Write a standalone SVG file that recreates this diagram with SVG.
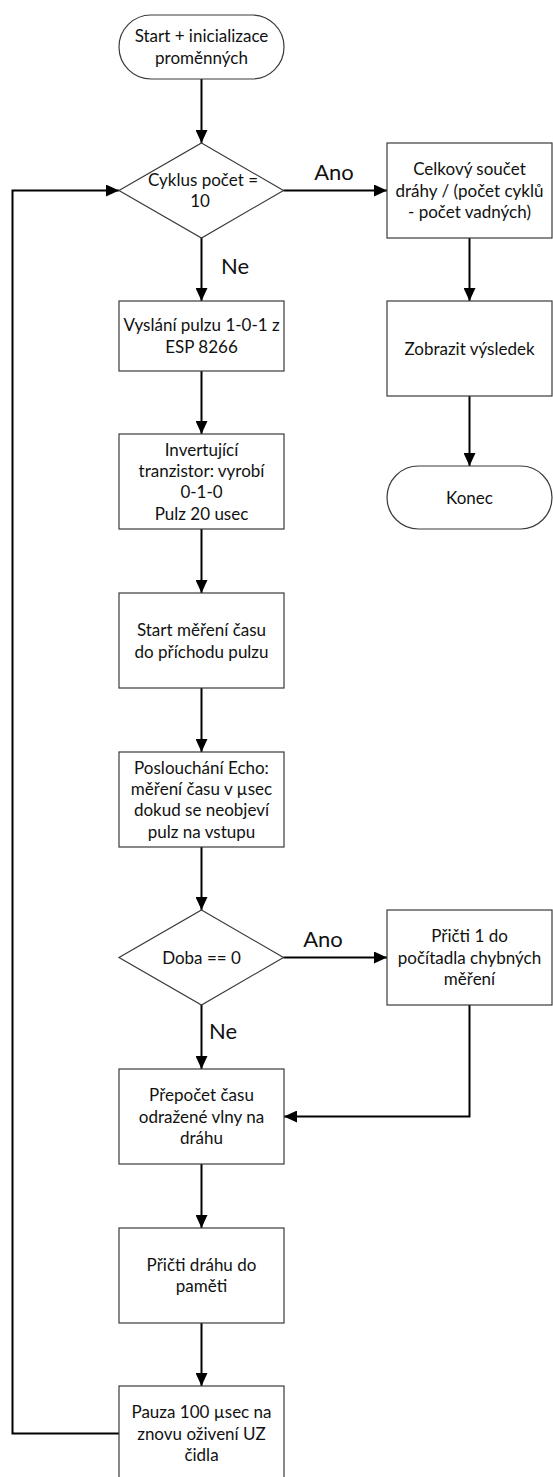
<svg xmlns="http://www.w3.org/2000/svg" width="553" height="1477" viewBox="0 0 553 1477">
<style>
.n{fill:#fff;stroke:#3a3a3a;stroke-width:1.2}
.t{font-family:Lato,"Liberation Sans",sans-serif;font-size:17px;fill:#111;text-anchor:middle}
.l{font-family:Lato,"Liberation Sans",sans-serif;font-size:22px;fill:#111;text-anchor:middle}
.c{fill:none;stroke:#000;stroke-width:2}
</style>
<defs>
<marker id="arr" viewBox="0 0 13 12" refX="13" refY="6" markerWidth="13" markerHeight="12" markerUnits="userSpaceOnUse" orient="auto">
<path d="M0,0 L13,6 L0,12 z" fill="#000"/>
</marker>
</defs>
<rect width="553" height="1477" fill="#fff"/>
<g id="connectors">
<path class="c" d="M201.5,79 V143" marker-end="url(#arr)"/>
<path class="c" d="M283.5,190.5 H387" marker-end="url(#arr)"/>
<path class="c" d="M201.5,238 V301" marker-end="url(#arr)"/>
<path class="c" d="M469.5,238 V301" marker-end="url(#arr)"/>
<path class="c" d="M469.5,396 V466" marker-end="url(#arr)"/>
<path class="c" d="M201.5,371 V434" marker-end="url(#arr)"/>
<path class="c" d="M201.5,529 V593" marker-end="url(#arr)"/>
<path class="c" d="M201.5,688 V752" marker-end="url(#arr)"/>
<path class="c" d="M201.5,847 V910" marker-end="url(#arr)"/>
<path class="c" d="M283.5,957.5 H387" marker-end="url(#arr)"/>
<path class="c" d="M201.5,1005 V1069" marker-end="url(#arr)"/>
<path class="c" d="M469.5,1005 V1116.5 H284" marker-end="url(#arr)"/>
<path class="c" d="M201.5,1164 V1228" marker-end="url(#arr)"/>
<path class="c" d="M201.5,1323 V1386" marker-end="url(#arr)"/>
<path class="c" d="M119,1433.5 H12.5 V190.5 H119" marker-end="url(#arr)"/>
<text class="l" x="334" y="179.5">Ano</text>
<text class="l" x="235" y="274">Ne</text>
<text class="l" x="323" y="947">Ano</text>
<text class="l" x="223" y="1039">Ne</text>
</g>
<g id="start">
<rect class="n" x="119" y="15" width="165" height="64" rx="32"/>
<text class="t" x="201.5" y="42">Start + inicializace</text>
<text class="t" x="201.5" y="63.5">proměnných</text>
</g>
<g id="cyklus">
<path class="n" d="M201.5,143 L283.5,190.5 L201.5,238 L119,190.5 z"/>
<text class="t" x="203" y="185.5">Cyklus počet =</text>
<text class="t" x="200" y="206.5">10</text>
</g>
<g id="soucet">
<rect class="n" x="387" y="143" width="165" height="95"/>
<text class="t" x="469.5" y="175.3">Celkový součet</text>
<text class="t" x="469.5" y="196.5">dráhy / (počet cyklů</text>
<text class="t" x="469.5" y="217.8">- počet vadných)</text>
</g>
<g id="zobrazit">
<rect class="n" x="387" y="301" width="165" height="95"/>
<text class="t" x="469.5" y="354.5">Zobrazit výsledek</text>
</g>
<g id="konec">
<rect class="n" x="387" y="466" width="165" height="63" rx="31.5"/>
<text class="t" x="469.5" y="503.5">Konec</text>
</g>
<g id="vyslani">
<rect class="n" x="119" y="301" width="165" height="70"/>
<text class="t" x="201.5" y="331.3">Vyslání pulzu 1-0-1 z</text>
<text class="t" x="201.5" y="352.6">ESP 8266</text>
</g>
<g id="invertujici">
<rect class="n" x="119" y="434" width="165" height="95"/>
<text class="t" x="201.5" y="455.5">Invertující</text>
<text class="t" x="201.5" y="476.9">tranzistor: vyrobí</text>
<text class="t" x="201.5" y="498.2">0-1-0</text>
<text class="t" x="201.5" y="519.5">Pulz 20 usec</text>
</g>
<g id="start-mereni">
<rect class="n" x="119" y="593" width="165" height="95"/>
<text class="t" x="201.5" y="636.2">Start měření času</text>
<text class="t" x="201.5" y="657.5">do příchodu pulzu</text>
</g>
<g id="poslouchani">
<rect class="n" x="119" y="752" width="165" height="95"/>
<text class="t" x="201.5" y="773.6">Poslouchání Echo:</text>
<text class="t" x="201.5" y="794.9">měření času v µsec</text>
<text class="t" x="201.5" y="816.2">dokud se neobjeví</text>
<text class="t" x="201.5" y="837.5">pulz na vstupu</text>
</g>
<g id="doba">
<path class="n" d="M201.5,910 L283.5,957.5 L201.5,1005 L119,957.5 z"/>
<text class="t" x="201.5" y="963.5">Doba == 0</text>
</g>
<g id="chybna">
<rect class="n" x="387" y="910" width="165" height="95"/>
<text class="t" x="469.5" y="942.2">Přičti 1 do</text>
<text class="t" x="469.5" y="963.5">počítadla chybných</text>
<text class="t" x="469.5" y="984.8">měření</text>
</g>
<g id="prepocet">
<rect class="n" x="119" y="1069" width="165" height="95"/>
<text class="t" x="201.5" y="1101.2">Přepočet času</text>
<text class="t" x="201.5" y="1122.5">odražené vlny na</text>
<text class="t" x="201.5" y="1143.8">dráhu</text>
</g>
<g id="pricti-drahu">
<rect class="n" x="119" y="1228" width="165" height="95"/>
<text class="t" x="201.5" y="1270.9">Přičti dráhu do</text>
<text class="t" x="201.5" y="1292.2">paměti</text>
</g>
<g id="pauza">
<rect class="n" x="119" y="1386" width="165" height="95"/>
<text class="t" x="201.5" y="1418.2">Pauza 100 µsec na</text>
<text class="t" x="201.5" y="1439.5">znovu oživení UZ</text>
<text class="t" x="201.5" y="1460.8">čidla</text>
</g>
</svg>
